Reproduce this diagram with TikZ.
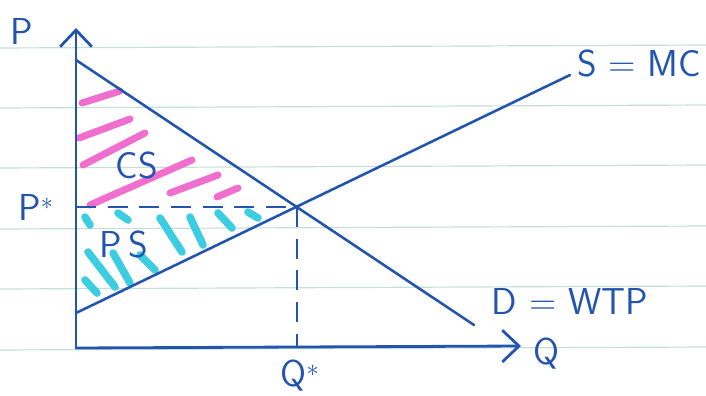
\documentclass[tikz,border=0pt]{standalone}
\usepackage{tikz}
\usetikzlibrary{arrows.meta}

\definecolor{ink}{RGB}{35,85,175}
\definecolor{csink}{RGB}{240,110,205}
\definecolor{psink}{RGB}{60,205,225}
\definecolor{ruling}{RGB}{196,224,214}

\begin{document}
\begin{tikzpicture}[
  x=0.03cm, y=-0.03cm,
  every node/.style={font=\sffamily\fontsize{32}{34}\selectfont, text=ink, inner sep=0pt},
  >={Straight Barb[length=5mm, width=9.5mm]},
  axis/.style={->, draw=ink, line width=2.4pt, line cap=round},
  curve/.style={draw=ink, line width=2.2pt, line cap=round},
  guide/.style={draw=ink, line width=1.5pt, dash pattern=on 6mm off 3.5mm},
  cshatch/.style={draw=csink, line width=6pt, line cap=round},
  pshatch/.style={draw=psink, line width=6.5pt, line cap=round},
  paperline/.style={draw=ruling, line width=1pt},
]
\useasboundingbox (0,0) rectangle (706,396);

%% ---- ruled paper ----
\foreach \yy in {48,108,168,229,289,350}
  \draw[paperline] (0,\yy) -- (706,\yy-3);

%% ---- hatching ----
\foreach \ax/\ay/\bx/\by in {82/103/120/91, 79/138/130/119, 83/165/145/133,
    90/205/192/160, 170/193/218/175, 217/197/238/188}
  \draw[cshatch] (\ax,\ay) -- (\bx,\by);
\foreach \ax/\ay/\bx/\by in {85/217/90/225, 118/213/128/220, 160/218/182/252,
    190/217/203/245, 218/213/232/228, 248/212/258/218, 88/252/115/287,
    113/253/130/283, 140/255/155/270, 85/280/97/293}
  \draw[pshatch] (\ax,\ay) -- (\bx,\by);

%% ---- axes ----
\coordinate (origin) at (76,348);
\coordinate (ytop)   at (76,28);
\coordinate (xend)   at (521,346);
\draw[axis] (origin) -- (ytop);
\draw[axis] (origin) -- (xend);

%% ---- demand and supply ----
\coordinate (dtop) at (76,60);
\coordinate (dend) at (474,325);
\coordinate (sbot) at (76,313);
\coordinate (send) at (570,75);
\draw[curve] (dtop) -- (dend);
\draw[curve] (sbot) -- (send);

%% ---- equilibrium ----
\coordinate (eq) at (297,207);
\coordinate (pstarax) at (origin |- eq);
\coordinate (qstarax) at (eq |- origin);
\draw[guide, line width=1.2pt] (pstarax) -- (eq);
\draw[guide] (eq) -- (qstarax);

%% ---- labels ----
\node (plabel)  at (22,31)   {P};
\node (qlabel)  at (546,354) {Q};
\node (pstar)   at (36,207)  {P$^{*}$};
\node (qstar)   at (300,376) {Q$^{*}$};
\node (smc)     at (639,63)  {S = MC};
\node (dwtp)    at (570,301) {D = WTP};
\node (cs)      at (137,165) {CS};
\node (ps)      at (124,244) {P\,S};

\end{tikzpicture}
\end{document}
